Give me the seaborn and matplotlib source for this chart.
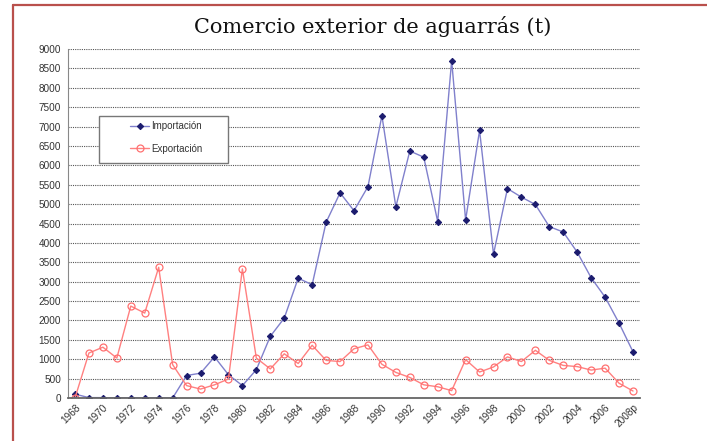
import matplotlib
matplotlib.use("Agg")
import matplotlib.pyplot as plt
from matplotlib.lines import Line2D
from matplotlib.patches import Rectangle
import seaborn as sns
import pandas as pd

years = [str(y) for y in range(1968, 2008)] + ["2008p"]
importacion = [100, 10, 10, 0, 0, 0, 0, 0, 580, 640, 1060, 600, 320, 730, 1590, 2060,
               3090, 2920, 4530, 5290, 4830, 5450, 7280, 4930, 6370, 6210, 4550, 8700,
               4590, 6900, 3710, 5400, 5180, 4990, 4420, 4280, 3760, 3100, 2600, 1930, 1190]
exportacion = [0, 1160, 1310, 1030, 2370, 2190, 3370, 860, 320, 230, 340, 490, 3330, 1030,
               750, 1140, 890, 1360, 970, 940, 1270, 1370, 870, 660, 530, 340, 290, 190,
               990, 670, 800, 1060, 940, 1230, 970, 840, 810, 720, 770, 380, 180]
tick_labels = years[::2]
title = "Comercio exterior de aguarrás (t)"

df = pd.DataFrame({"year": years, "Importación": importacion, "Exportación": exportacion})
df["pos"] = range(len(df))

sns.set_theme(style="white")
plt.rcParams["font.family"] = ["Liberation Sans", "DejaVu Sans"]

fig = plt.figure(figsize=(7.07, 4.41), dpi=100)
ax = fig.add_axes([68 / 707, 1 - 398 / 441, 572 / 707, 349 / 441])

sns.lineplot(data=df, x="pos", y="Importación", ax=ax, color="#8080cc", linewidth=1.0,
             marker="D", markersize=3.2, markerfacecolor="#1c1c6e", markeredgecolor="#1c1c6e",
             label="Importación", legend=False)
sns.lineplot(data=df, x="pos", y="Exportación", ax=ax, color="#ff8080", linewidth=1.0,
             marker="o", markersize=5, markerfacecolor="none", markeredgecolor="#ff7070",
             markeredgewidth=0.9, label="Exportación", legend=False)

ax.set_xlim(-0.5, len(years) - 0.5)
ax.set_ylim(0, 9000)
ax.set_yticks(range(0, 9001, 500))
ax.set_xticks(df["pos"][::2])
ax.set_xticklabels(tick_labels, rotation=45, ha="right", rotation_mode="anchor")
ax.tick_params(axis="both", length=0, labelsize=7.2, labelcolor="#333333", pad=3)
ax.tick_params(axis="y", pad=5)
ax.set_xlabel("")
ax.set_ylabel("")
ax.yaxis.grid(True, linestyle=(0, (1, 1)), color="#555555", linewidth=0.8)
ax.set_axisbelow(True)
for s in ["top", "right"]:
    ax.spines[s].set_visible(False)
ax.spines["left"].set_color("#888888")
ax.spines["left"].set_linewidth(0.8)
ax.spines["bottom"].set_color("#666666")
ax.spines["bottom"].set_linewidth(1.3)

# legend frame
ax.add_patch(Rectangle((31 / 572, (398 - 162.7) / 349), 129 / 572, 47 / 349,
                       transform=ax.transAxes, facecolor="white", edgecolor="#777777",
                       linewidth=1.0, zorder=5))
leg = ax.legend(loc="upper left", bbox_to_anchor=(62 / 572, (398 - 121) / 349),
                frameon=False, fontsize=7, handlelength=2.0, handletextpad=0.2,
                labelspacing=1.3, borderpad=0, borderaxespad=0)
leg.set_zorder(6)
for t in leg.get_texts():
    t.set_color("#333333")

fig.text(0.527, 0.940, title, ha="center", va="center", fontsize=15,
         family=["DejaVu Serif"], color="#111111")

fig.add_artist(Line2D([13 / 707, 1.0], [1 - 5 / 441, 1 - 5 / 441], transform=fig.transFigure,
                      color="#b9504c", linewidth=1.6))
fig.add_artist(Line2D([13 / 707, 13 / 707], [0, 1 - 5 / 441], transform=fig.transFigure,
                      color="#b9504c", linewidth=1.6))

fig.savefig("out.png", dpi=100)
